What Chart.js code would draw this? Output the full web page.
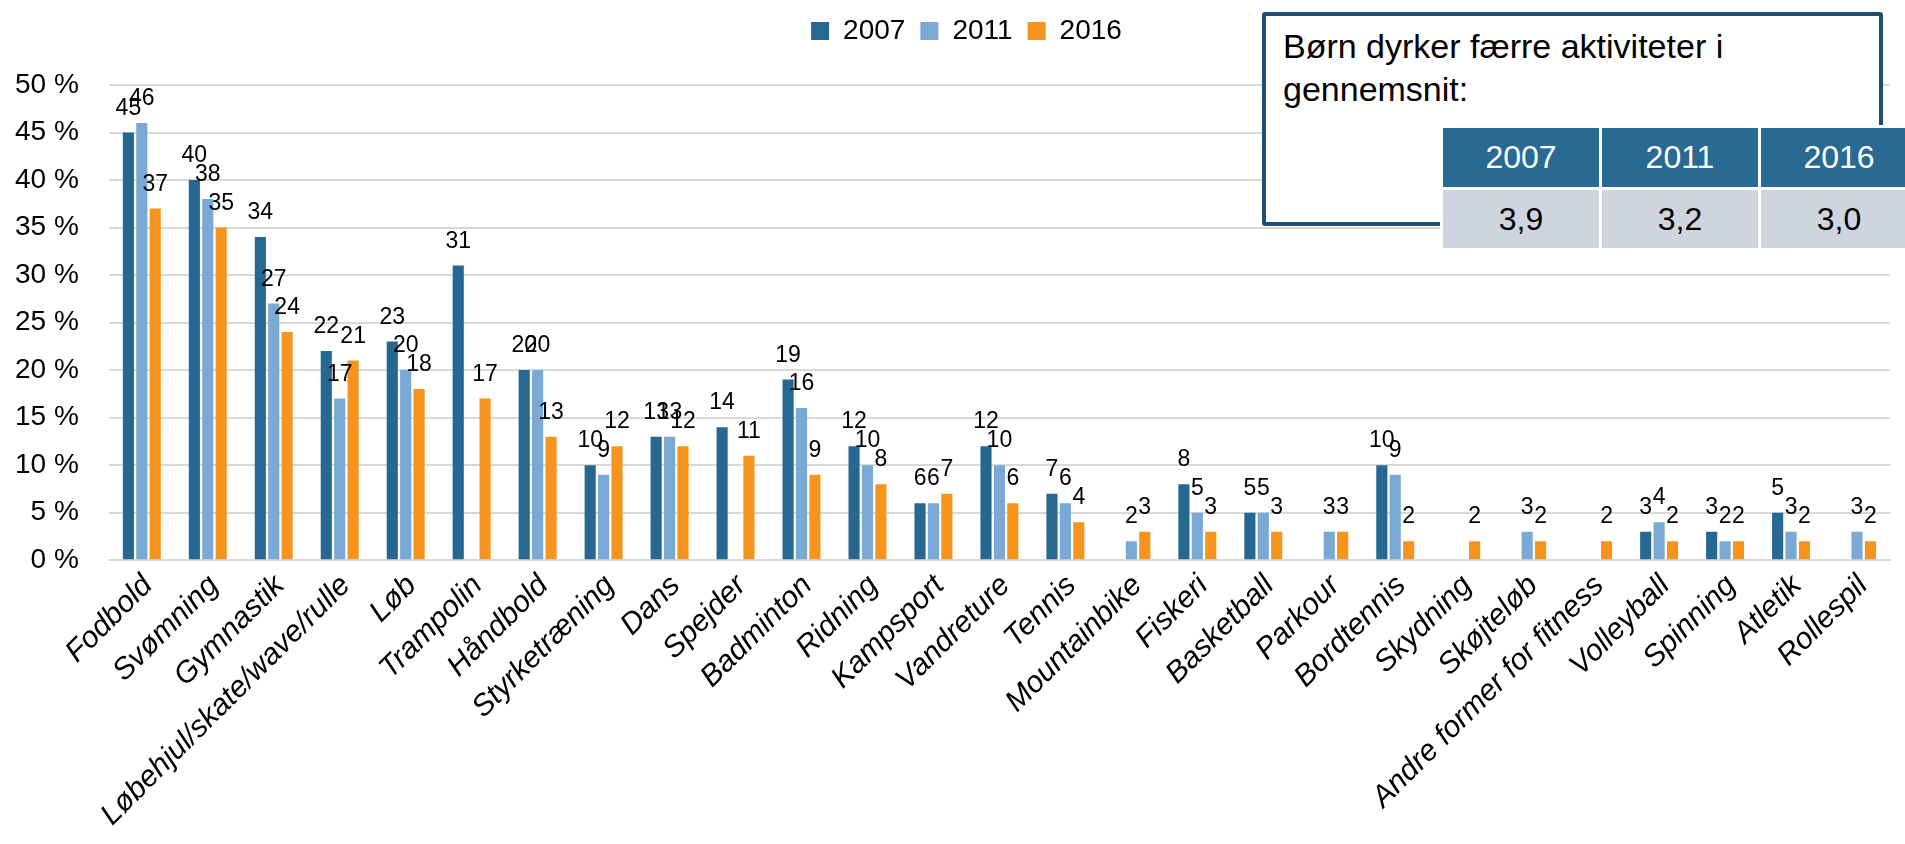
<!DOCTYPE html>
<html lang="da">
<head>
    <meta charset="UTF-8">
    <title>Børns aktiviteter 2007, 2011, 2016</title>
    <style>
        * { box-sizing: border-box; margin: 0; padding: 0; }
        body {
            background: #fff;
            overflow: hidden;
            font-family: "Liberation Sans", Arial, sans-serif;
        }
        .wrap {
            position: relative;
            width: 1905px;
            height: 844px;
            overflow: hidden;
        }
        /* Text box in upper right corner */
        .note {
            position: absolute;
            left: 1262px;
            top: 12px;
            width: 621px;
            height: 214px;
            border: 4px solid #1f4e6e;
            border-radius: 3px;
            background: #fff;
            padding: 9px 0 0 17px;
            font-size: 34px;
            line-height: 43px;
            color: #000;
        }
        .avg {
            position: absolute;
            left: 1440px;
            top: 125px;
            background: #fff;
            border-collapse: separate;
            border-spacing: 3px;
            font-size: 32px;
        }
        .avg td {
            width: 156px;
            min-width: 156px;
            text-align: center;
            padding: 0;
        }
        .avg tr.head td { background: #286a92; color: #fff; height: 59px; }
        .avg tr.vals td { background: #cfd5de; color: #000; height: 58px; }
    </style>
    <script src="https://cdn.jsdelivr.net/npm/chart.js"></script>
</head>
<body>
<div class="wrap">
    <canvas id="activityChart" width="1905" height="844"></canvas>
    <div class="note">Børn dyrker færre aktiviteter i<br>gennemsnit:</div>
    <table class="avg" id="avgTable"></table>
</div>

<script>
    // Data (percent of children)
    const categories = ['Fodbold', 'Svømning', 'Gymnastik', 'Løbehjul/skate/wave/rulle', 'Løb', 'Trampolin',
        'Håndbold', 'Styrketræning', 'Dans', 'Spejder', 'Badminton', 'Ridning', 'Kampsport', 'Vandreture',
        'Tennis', 'Mountainbike', 'Fiskeri', 'Basketball', 'Parkour', 'Bordtennis', 'Skydning', 'Skøjteløb',
        'Andre former for fitness', 'Volleyball', 'Spinning', 'Atletik', 'Rollespil'];
    const years = ['2007', '2011', '2016'];
    const values2007 = [45, 40, 34, 22, 23, 31, 20, 10, 13, 14, 19, 12, 6, 12, 7, null, 8, 5, null, 10, null, null, null, 3, 3, 5, null];
    const values2011 = [46, 38, 27, 17, 20, null, 20, 9, 13, null, 16, 10, 6, 10, 6, 2, 5, 5, 3, 9, null, 3, null, 4, 2, 3, 3];
    const values2016 = [37, 35, 24, 21, 18, 17, 13, 12, 12, 11, 9, 8, 7, 6, 4, 3, 3, 3, 3, 2, 2, 2, 2, 2, 2, 2, 2];
    const yMax = 50;
    const yStep = 5;

    // Average number of activities per child
    const avgYears = ['2007', '2011', '2016'];
    const avgValues = [3.9, 3.2, 3.0];

    const colors = ['#276892', '#7aa9d5', '#f7941e'];
    const fontFamily = '"Liberation Sans", Arial, sans-serif';

    // small table in the note box
    const table = document.getElementById('avgTable');
    table.innerHTML =
        '<tr class="head">' + avgYears.map(y => '<td>' + y + '</td>').join('') + '</tr>' +
        '<tr class="vals">' + avgValues.map(v => '<td>' + v.toFixed(1).replace('.', ',') + '</td>').join('') + '</tr>';

    // value labels above every bar
    const barLabels = {
        id: 'barLabels',
        afterDatasetsDraw(chart) {
            const ctx = chart.ctx;
            ctx.save();
            ctx.font = '23px ' + fontFamily;
            ctx.fillStyle = '#000';
            ctx.textAlign = 'center';
            ctx.textBaseline = 'alphabetic';
            chart.data.datasets.forEach((ds, i) => {
                chart.getDatasetMeta(i).data.forEach((bar, j) => {
                    const v = ds.data[j];
                    if (v === null || v === undefined) return;
                    ctx.fillText(String(v), bar.x, bar.y - 18);
                });
            });
            ctx.restore();
        }
    };

    // extra space between legend and plot, legend nudged a bit right
    const legendTweak = {
        id: 'legendTweak',
        beforeInit(chart) {
            const fit = chart.legend.fit;
            chart.legend.fit = function () {
                fit.call(this);
                this.height += 30;
            };
        },
        afterLayout(chart) {
            chart.legend.left += 14;
            chart.legend.right += 14;
        }
    };

    Chart.defaults.font.family = fontFamily;
    Chart.defaults.color = '#000';

    new Chart(document.getElementById('activityChart'), {
        type: 'bar',
        data: {
            labels: categories,
            datasets: [
                { label: years[0], data: values2007, backgroundColor: colors[0] },
                { label: years[1], data: values2011, backgroundColor: colors[1] },
                { label: years[2], data: values2016, backgroundColor: colors[2] }
            ]
        },
        options: {
            responsive: false,
            animation: false,
            datasets: {
                bar: { categoryPercentage: 0.61, barPercentage: 0.83 }
            },
            layout: { padding: { left: 15, right: 15, top: 2, bottom: 11 } },
            plugins: {
                legend: {
                    position: 'top',
                    labels: {
                        boxWidth: 18,
                        boxHeight: 18,
                        padding: 15,
                        font: { size: 28 }
                    }
                },
                tooltip: { enabled: false }
            },
            scales: {
                x: {
                    grid: { display: false },
                    border: { color: '#d9d9d9', width: 2 },
                    ticks: {
                        autoSkip: false,
                        maxRotation: 45,
                        minRotation: 45,
                        padding: 0,
                        labelOffset: 6,
                        font: { size: 30, style: 'italic' }
                    },
                    // rotated labels have room already, keep the plot wide
                    afterFit(scale) {
                        scale.paddingLeft = 0;
                        scale.paddingRight = 0;
                    }
                },
                y: {
                    min: 0,
                    max: yMax,
                    grid: { color: '#d9d9d9', lineWidth: 2, drawTicks: false },
                    border: { display: false },
                    ticks: {
                        stepSize: yStep,
                        padding: 30,
                        font: { size: 28 },
                        callback: v => v + ' %'
                    },
                    // tick padding is counted twice in the axis width; keep it once
                    afterFit(scale) {
                        scale.width -= scale.options.ticks.padding;
                    }
                }
            }
        },
        plugins: [barLabels, legendTweak]
    });
</script>
</body>
</html>
